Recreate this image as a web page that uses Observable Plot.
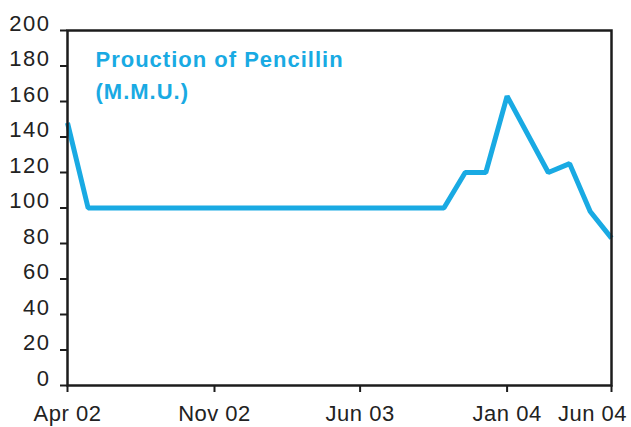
<!DOCTYPE html>
<html>
<head>
<meta charset="utf-8">
<script src="https://cdn.jsdelivr.net/npm/d3@7"></script>
<script src="https://cdn.jsdelivr.net/npm/@observablehq/plot@0.6"></script>
<style>
  html, body { margin: 0; padding: 0; background: #fff; }
  #chart svg { display: block; }
  #chart g[aria-label="y-axis tick label"] text { letter-spacing: 1.5px; }
  #chart g[aria-label="x-axis tick label"] text { letter-spacing: 0.5px; }
  #chart g[aria-label="text"] text { letter-spacing: 1px; }
</style>
</head>
<body>
<div id="chart"></div>
<script>
// Data (vertices of the line)
const months = ["2002-04", "2002-05", "2003-10", "2003-11", "2003-12", "2004-01", "2004-03", "2004-04", "2004-05", "2004-06"];
const production = [148, 100, 100, 120, 120, 163, 120, 125, 98, 83];

// Axis ticks
const xTickMonths = ["2002-04", "2002-11", "2003-06", "2004-01", "2004-06"];
const xTickLabels = ["Apr 02", "Nov 02", "Jun 03", "Jan 04", "Jun 04"];
const yTicks = [0, 20, 40, 60, 80, 100, 120, 140, 160, 180, 200];
const titleLines = ["Prouction of Pencillin", "(M.M.U.)"];

const parse = d3.utcParse("%Y-%m");
const data = months.map((m, i) => ({date: parse(m), value: production[i]}));
const xTicks = xTickMonths.map(parse);
const labelOf = d => xTickLabels[xTicks.findIndex(t => +t === +d)];

const blue = "#19aae3";
const ink = "#1c1c1c";
const font = "'Liberation Sans', Arial, sans-serif";

const chart = Plot.plot({
  width: 631,
  height: 427,
  marginLeft: 67,
  marginRight: 20,
  marginTop: 30,
  marginBottom: 42,
  style: {fontFamily: font, background: "#fff", color: ink},
  x: {type: "utc", domain: [xTicks[0], xTicks[xTicks.length - 1]], label: null},
  y: {domain: [0, 200], label: null},
  marks: [
    Plot.line(data, {x: "date", y: "value", stroke: blue, strokeWidth: 5, strokeLinejoin: "miter", strokeLinecap: "butt"}),
    Plot.frame({stroke: ink, strokeWidth: 2.5}),
    // y ticks and labels
    Plot.axisY(yTicks, {tickSize: 7, stroke: ink, strokeWidth: 2, text: null, label: null}),
    Plot.axisY(yTicks, {tickSize: 0, tickPadding: 17, dy: -7, fill: "#222", fontSize: 22, label: null}),
    // x ticks and labels
    Plot.axisX(xTicks, {tickSize: 7, stroke: ink, strokeWidth: 2, text: null, label: null}),
    Plot.axisX(xTicks.slice(0, 4), {tickSize: 0, tickPadding: 20, tickFormat: labelOf, fill: "#222", fontSize: 22, label: null}),
    Plot.axisX(xTicks.slice(4), {tickSize: 0, tickPadding: 20, dx: -19, tickFormat: labelOf, fill: "#222", fontSize: 22, label: null}),
    // title inside the plot
    Plot.text([titleLines.join("\n")], {
      frameAnchor: "top-left", dx: 28, dy: 14,
      fill: blue, fontSize: 22, fontWeight: "bold", lineHeight: 1.45
    })
  ]
});
document.getElementById("chart").append(chart);
</script>
</body>
</html>
